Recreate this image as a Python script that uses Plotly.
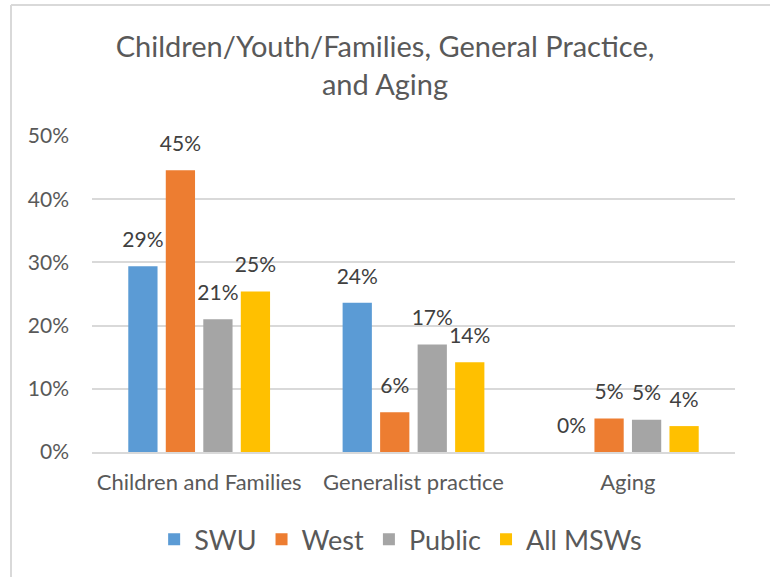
import plotly.graph_objects as go

categories = ["Children and Families", "Generalist practice", "Aging"]
series_names = ["SWU", "West", "Public", "All MSWs"]
swu = [29.4, 23.6, 0.0]
west = [44.6, 6.3, 5.3]
public = [21.0, 17.0, 5.1]
all_msws = [25.4, 14.2, 4.1]
colors = ["#5B9BD5", "#ED7D31", "#A5A5A5", "#FFC000"]
y_ticks = [0, 10, 20, 30, 40, 50]
y_tick_labels = ["0%", "10%", "20%", "30%", "40%", "50%"]

FONT = "Lato"
fig = go.Figure()
for name, vals, col in zip(series_names, [swu, west, public, all_msws], colors):
    fig.add_trace(go.Bar(
        x=categories, y=vals, name=name, marker=dict(color=col, line=dict(width=0)),
        texttemplate="<span style='font-size:21px'>%{y:.0f}%</span><br> ",
        textposition="outside", constraintext="none",
        textfont=dict(family=FONT, size=11, color="#404040"),
        cliponaxis=False, hoverinfo="skip",
    ))

fig.update_layout(
    width=770, height=577,
    margin=dict(l=92, r=35, t=136, b=125),
    paper_bgcolor="white", plot_bgcolor="white",
    barmode="group", bargap=0.3, bargroupgap=0.22,
    title=dict(text="Children/Youth/Families, General Practice,<br>and Aging",
               x=0.5, xanchor="center", y=0.901, yanchor="top",
               font=dict(family=FONT, size=29, color="#595959")),
    xaxis=dict(showgrid=False, showline=True, linecolor="#D9D9D9", linewidth=1.5,
               tickfont=dict(family=FONT, size=22, color="#595959"), ticks="",
               ticklabelstandoff=10),
    yaxis=dict(range=[0, 50], tickvals=y_ticks, ticktext=y_tick_labels,
               showgrid=True, gridcolor="#D9D9D9", gridwidth=1.5, zeroline=False,
               showline=False, ticks="", ticklabelstandoff=22,
               tickfont=dict(family=FONT, size=21, color="#595959")),
    legend=dict(orientation="h", x=0.48, xanchor="center", y=-0.2, yanchor="top",
                font=dict(family=FONT, size=27, color="#595959"),
                traceorder="normal"),
    showlegend=True,
    font=dict(family=FONT),
)
fig.add_shape(type="line", xref="paper", yref="paper", x0=-0.126, x1=1.06, y0=1.4146, y1=1.4146,
              line=dict(color="#D9D9D9", width=2))
fig.add_shape(type="line", xref="paper", yref="paper", x0=-0.126, x1=-0.126, y0=1.4146, y1=-0.4,
              line=dict(color="#D9D9D9", width=2))
fig.write_html("out.html", config={"displayModeBar": False},
               post_script="document.body.style.margin='0';")
